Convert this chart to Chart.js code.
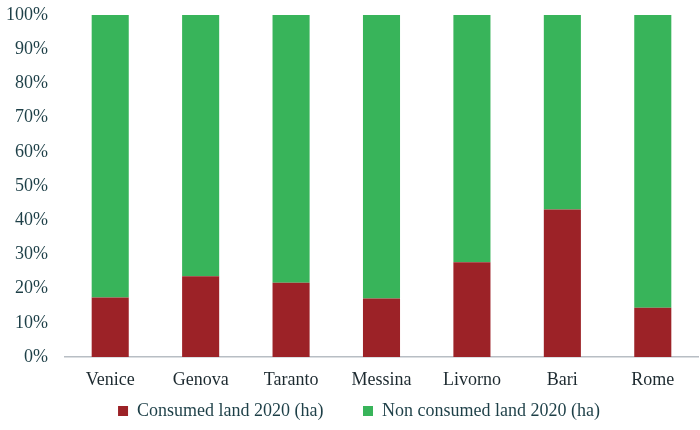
<!DOCTYPE html>
<html>
<head>
<meta charset="utf-8">
<script src="https://cdn.jsdelivr.net/npm/chart.js@4/dist/chart.umd.min.js"></script>
<style>
html,body{margin:0;padding:0;background:#fff;}
#wrap{width:700px;height:430px;position:relative;}
</style>
</head>
<body>
<div id="wrap"><canvas id="c" width="700" height="430"></canvas></div>
<script>
const categories = ["Venice","Genova","Taranto","Messina","Livorno","Bari","Rome"];
const consumedLand = [17.4, 23.6, 21.7, 17.1, 27.7, 43.1, 14.4];
const nonConsumedLand = [82.6, 76.4, 78.3, 82.9, 72.3, 56.9, 85.6];
const yTicks = [0,10,20,30,40,50,60,70,80,90,100];

const FONT = '"Liberation Serif", "Times New Roman", serif';

const legendShift = {
  id: 'legendShift',
  afterLayout(chart) {
    if (chart.legend) { chart.legend.left += 10; chart.legend.right += 10; }
  }
};

new Chart(document.getElementById('c'), {
  type: 'bar',
  data: {
    labels: categories,
    datasets: [
      {label: 'Consumed land 2020 (ha)', data: consumedLand, backgroundColor: '#9c2227', borderWidth: 0},
      {label: 'Non consumed land 2020 (ha)', data: nonConsumedLand, backgroundColor: '#38b45a', borderWidth: 0}
    ]
  },
  plugins: [legendShift],
  options: {
    responsive: false,
    animation: false,
    layout: {padding: {left: 0, right: 2, top: 0, bottom: 0}},
    datasets: {bar: {categoryPercentage: 1.0, barPercentage: 0.41}},
    plugins: {
      legend: {
        position: 'bottom',
        labels: {
          boxWidth: 10, boxHeight: 10, padding: 8,
          color: '#1d3f47',
          font: {family: FONT, size: 18},
          generateLabels: (chart) => {
            const items = Chart.defaults.plugins.legend.labels.generateLabels(chart);
            items.forEach((it, i) => { if (i === 0) it.text = it.text + '\u00a0\u00a0\u00a0\u00a0\u00a0\u00a0\u00a0'; });
            return items;
          }
        }
      },
      tooltip: {enabled: false}
    },
    scales: {
      x: {
        stacked: true,
        grid: {display: false, drawTicks: false},
        border: {display: true, color: '#b8bec4', width: 1.5},
        ticks: {color: '#1d2a30', padding: 12, font: {family: FONT, size: 18}},
        afterFit: (axis) => { axis.height = 37; }
      },
      y: {
        stacked: true,
        min: 0, max: 100,
        afterBuildTicks: (axis) => { axis.ticks = yTicks.map(v => ({value: v})); },
        afterFit: (axis) => { axis.width = 65; axis.paddingTop = 15; axis.paddingBottom = 0; },
        grid: {display: false, drawTicks: false},
        border: {display: false},
        ticks: {
          color: '#1d3f47', padding: 17,
          font: {family: FONT, size: 18},
          callback: (v) => v + '%'
        }
      }
    }
  }
});
</script>
</body>
</html>
